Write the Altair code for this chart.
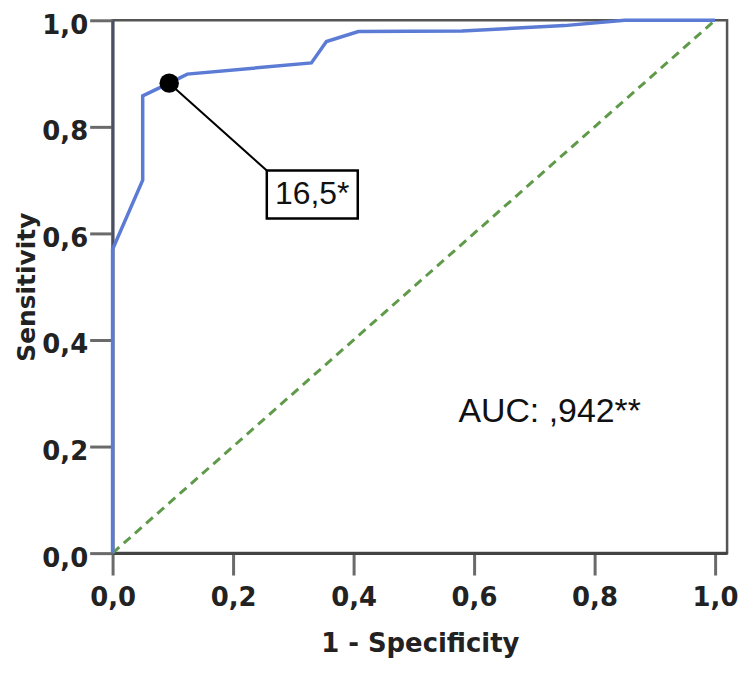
import altair as alt
import pandas as pd

# ROC curve (1 - specificity, sensitivity)
fpr = [0.0, 0.0, 0.05, 0.05, 0.094, 0.124, 0.33, 0.355, 0.408, 0.58, 0.75, 0.85, 1.0]
tpr = [0.0, 0.57, 0.70, 0.858, 0.882, 0.899, 0.92, 0.96, 0.979, 0.98, 0.99, 1.0, 1.0]

# reference diagonal
diag_x = [0.0, 1.0]
diag_y = [0.0, 1.0]

# cut-off point
cut_x = [0.094]
cut_y = [0.882]
cut_label = ["16,5*"]

auc_label = ["AUC: ,942**"]

tick_values = [0.0, 0.2, 0.4, 0.6, 0.8, 1.0]

# annotation placement (data coordinates)
box_x1, box_x2 = 0.256, 0.407
box_y1, box_y2 = 0.628, 0.718
auc_x, auc_y = 0.574, 0.247

roc_df = pd.DataFrame({"fpr": fpr, "tpr": tpr, "i": list(range(len(fpr)))})
diag_df = pd.DataFrame({"fpr": diag_x, "tpr": diag_y})
cut_df = pd.DataFrame({"fpr": cut_x, "tpr": cut_y, "label": cut_label,
                       "bx": [box_x1], "by": [box_y2]})
box_df = pd.DataFrame({"x1": [box_x1], "x2": [box_x2], "y1": [box_y1], "y2": [box_y2],
                       "tx": [(box_x1 + box_x2) / 2], "ty": [(box_y1 + box_y2) / 2],
                       "label": cut_label})
auc_df = pd.DataFrame({"x": [auc_x], "y": [auc_y], "label": auc_label})

fmt = "replace(format(datum.value, '.1f'), '.', ',')"
FONT = "DejaVu Sans"

xscale = alt.Scale(domain=[0, 1.02], nice=False, zero=True)
yscale = alt.Scale(domain=[0, 1], nice=False)

xaxis = alt.Axis(values=tick_values, labelExpr=fmt, tickSize=22, tickWidth=3,
                 tickColor="#6a6a6a", domainColor="#444444", domainWidth=3,
                 labelFont=FONT, labelFontWeight="bold", labelFontSize=26,
                 labelColor="#222222", labelPadding=10, labelFlush=False,
                 labelOverlap=False, title="1 - Specificity", titleFont=FONT,
                 titleFontWeight="bold", titleFontSize=26, titleColor="#222222",
                 titlePadding=20, grid=False)
yaxis = alt.Axis(values=tick_values, labelExpr=fmt, tickSize=23, tickWidth=3,
                 tickColor="#6a6a6a", domainColor="#4a4f63", domainWidth=3,
                 labelFont=FONT, labelFontWeight="bold", labelFontSize=26,
                 labelColor="#222222", labelPadding=2, labelFlush=False,
                 labelOverlap=False, labelOffset=5, title="Sensitivity",
                 titleFont=FONT, titleFontWeight="bold", titleFontSize=25,
                 titleColor="#222222", titlePadding=2, grid=False)

diag = alt.Chart(diag_df).mark_line(color="#5f9a4a", strokeWidth=3, strokeDash=[9, 6]).encode(
    x=alt.X("fpr:Q", scale=xscale, axis=xaxis),
    y=alt.Y("tpr:Q", scale=yscale, axis=yaxis),
)

roc = alt.Chart(roc_df).mark_line(color="#5b7bd5", strokeWidth=3.5).encode(
    x=alt.X("fpr:Q", scale=xscale),
    y=alt.Y("tpr:Q", scale=yscale),
    order="i:Q",
)

callout = alt.Chart(cut_df).mark_rule(color="black", strokeWidth=2).encode(
    x=alt.X("fpr:Q", scale=xscale), y=alt.Y("tpr:Q", scale=yscale),
    x2="bx:Q", y2="by:Q",
)

dot = alt.Chart(cut_df).mark_circle(color="black", size=380, opacity=1).encode(
    x=alt.X("fpr:Q", scale=xscale), y=alt.Y("tpr:Q", scale=yscale),
)

box = alt.Chart(box_df).mark_rect(fill="white", stroke="black", strokeWidth=2.5).encode(
    x=alt.X("x1:Q", scale=xscale), x2="x2:Q",
    y=alt.Y("y1:Q", scale=yscale), y2="y2:Q",
)

box_text = alt.Chart(box_df).mark_text(font="Liberation Sans", fontSize=32, color="#111111",
                                       align="center", baseline="middle").encode(
    x=alt.X("tx:Q", scale=xscale), y=alt.Y("ty:Q", scale=yscale), text="label:N",
)

auc = alt.Chart(auc_df).mark_text(font="Liberation Sans", fontSize=34, color="#111111",
                                  align="left", baseline="alphabetic").encode(
    x=alt.X("x:Q", scale=xscale), y=alt.Y("y:Q", scale=yscale), text="label:N",
)

chart = alt.layer(diag, roc, callout, dot, box, box_text, auc).properties(
    width=617, height=535,
    padding={"left": 105, "top": 11, "right": 18, "bottom": 110},
    autosize=alt.AutoSizeParams(type="none"),
    background="white",
).configure_view(stroke="#555555", strokeWidth=2.5)

chart.save("out.html", embed_options={"renderer": "svg", "actions": False})
